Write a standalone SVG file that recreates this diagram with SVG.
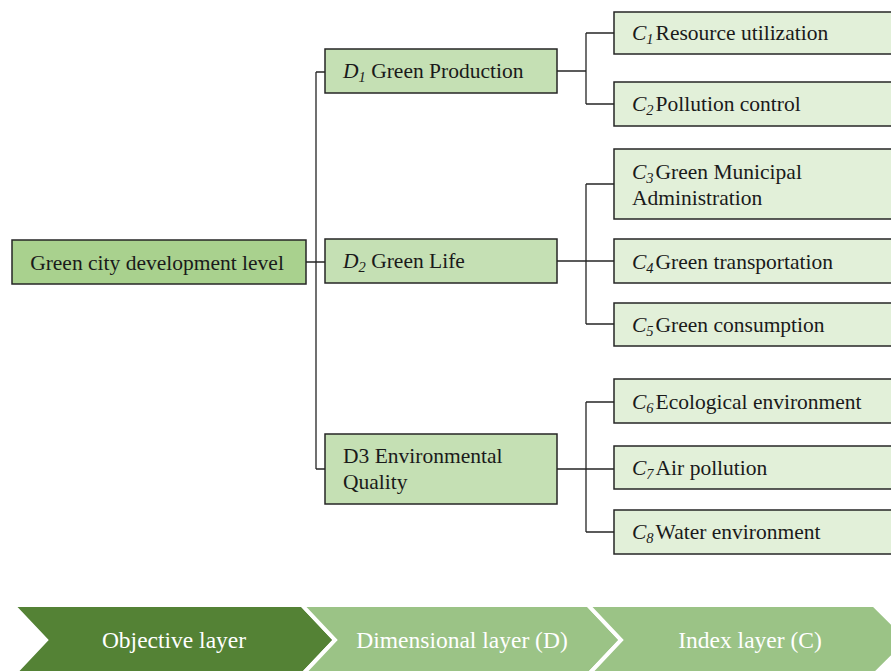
<svg xmlns="http://www.w3.org/2000/svg" width="891" height="671" viewBox="0 0 891 671">
<style>
text{font-family:"Liberation Serif","Times New Roman",serif;font-size:21.5px;fill:#1a1a1a}
.box{stroke:#262626;stroke-width:1.5}
.root{fill:#a9d18e}
.dim{fill:#c5e0b4}
.idx{fill:#e2f0d9}
.i{font-style:italic}
.sub{font-style:italic;font-size:14.5px}
#connectors path{fill:none;stroke:#262626;stroke-width:1.3}
.chev{stroke:#ffffff;stroke-width:4}
.ct{font-size:23.5px;fill:#ffffff;text-anchor:middle}
</style>
<g id="connectors">
<path d="M306 262H316M316 72V469M316 72H325M316 262H325M316 469H325"/>
<path d="M557 71H586M586 33V104M586 33H614M586 104H614"/>
<path d="M557 261H614M586 184V324M586 184H614M586 324H614"/>
<path d="M557 469H614M586 402V532M586 402H614M586 532H614"/>
</g>
<g id="root">
<rect class="box root" x="12" y="240" width="294" height="44"/>
<text x="157" y="270" text-anchor="middle">Green city development level</text>
</g>
<g id="D1">
<rect class="box dim" x="325" y="49" width="232" height="44"/>
<text x="343" y="78"><tspan class="i">D</tspan><tspan class="sub" dy="4">1</tspan><tspan dy="-4"> Green Production</tspan></text>
</g>
<g id="D2">
<rect class="box dim" x="325" y="239" width="232" height="44"/>
<text x="343" y="268"><tspan class="i">D</tspan><tspan class="sub" dy="4">2</tspan><tspan dy="-4"> Green Life</tspan></text>
</g>
<g id="D3">
<rect class="box dim" x="325" y="434" width="232" height="70"/>
<text x="343" y="463">D3 Environmental</text>
<text x="343" y="489">Quality</text>
</g>
<g id="C1">
<rect class="box idx" x="614" y="12" width="290" height="42"/>
<text x="632" y="40"><tspan class="i">C</tspan><tspan class="sub" dy="4">1</tspan><tspan dy="-4" dx="2">Resource utilization</tspan></text>
</g>
<g id="C2">
<rect class="box idx" x="614" y="82" width="290" height="44"/>
<text x="632" y="111"><tspan class="i">C</tspan><tspan class="sub" dy="4">2</tspan><tspan dy="-4" dx="2">Pollution control</tspan></text>
</g>
<g id="C3">
<rect class="box idx" x="614" y="149" width="290" height="70"/>
<text x="632" y="179"><tspan class="i">C</tspan><tspan class="sub" dy="4">3</tspan><tspan dy="-4" dx="2">Green Municipal</tspan></text>
<text x="632" y="205">Administration</text>
</g>
<g id="C4">
<rect class="box idx" x="614" y="239" width="290" height="44"/>
<text x="632" y="269"><tspan class="i">C</tspan><tspan class="sub" dy="4">4</tspan><tspan dy="-4" dx="2">Green transportation</tspan></text>
</g>
<g id="C5">
<rect class="box idx" x="614" y="303" width="290" height="43"/>
<text x="632" y="332"><tspan class="i">C</tspan><tspan class="sub" dy="4">5</tspan><tspan dy="-4" dx="2">Green consumption</tspan></text>
</g>
<g id="C6">
<rect class="box idx" x="614" y="379" width="290" height="44"/>
<text x="632" y="409"><tspan class="i">C</tspan><tspan class="sub" dy="4">6</tspan><tspan dy="-4" dx="2">Ecological environment</tspan></text>
</g>
<g id="C7">
<rect class="box idx" x="614" y="446" width="290" height="43"/>
<text x="632" y="475"><tspan class="i">C</tspan><tspan class="sub" dy="4">7</tspan><tspan dy="-4" dx="2">Air pollution</tspan></text>
</g>
<g id="C8">
<rect class="box idx" x="614" y="510" width="290" height="44"/>
<text x="632" y="539"><tspan class="i">C</tspan><tspan class="sub" dy="4">8</tspan><tspan dy="-4" dx="2">Water environment</tspan></text>
</g>
<g id="layers">
<polygon class="chev" fill="#548235" points="13,605 302,605 335,640 302,675 13,675 46,640"/>
<polygon class="chev" fill="#9bc386" points="302,605 588,605 621,640 588,675 302,675 335,640"/>
<polygon class="chev" fill="#9bc386" points="588,605 874,605 909,640 874,675 588,675 621,640"/>
<text class="ct" x="174" y="648">Objective layer</text>
<text class="ct" x="462" y="648">Dimensional layer (D)</text>
<text class="ct" x="750" y="648">Index layer (C)</text>
</g>
</svg>
